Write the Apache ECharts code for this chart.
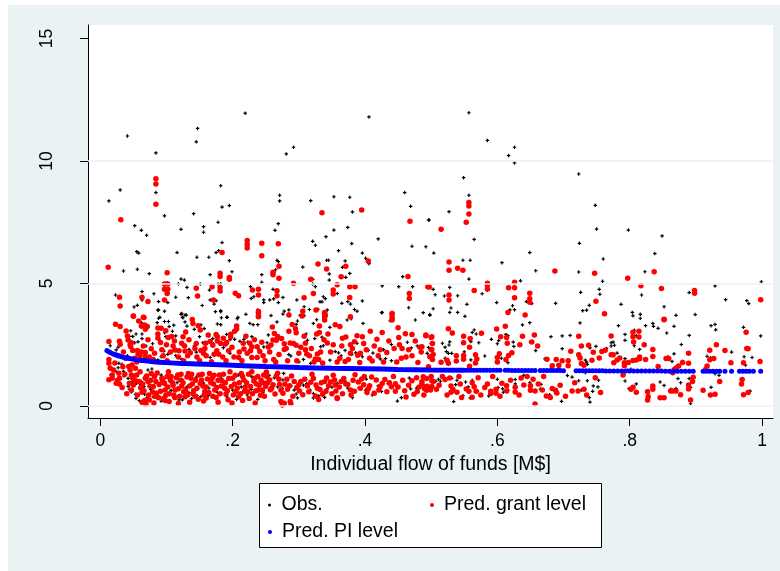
<!DOCTYPE html>
<html>
<head>
<meta charset="utf-8">
<script src="https://cdn.jsdelivr.net/npm/echarts/dist/echarts.min.js"></script>
<style>
  html, body { margin: 0; padding: 0; background: #ffffff; }
  #chart { width: 780px; height: 571px; }
</style>
</head>
<body>
<div id="chart"></div>
<script>
// ---- Axis ticks ----
const xTickValues = [0, 0.2, 0.4, 0.6, 0.8, 1];
const xTickLabels = ['0', '.2', '.4', '.6', '.8', '1'];
const yTickValues = [0, 5, 10, 15];
const yTickLabels = ['0', '5', '10', '15'];
const gridValues = [0, 5, 10];

// ---- Observed values: [flow of funds (M$), level] ----
const obsUpper = [
  [0.041,11.02],[0.084,10.33],[0.147,11.33],[0.145,10.78],[0.219,11.95],[0.281,10.29],[0.292,10.56],[0.406,11.80],
  [0.013,8.37],[0.030,8.82],[0.084,8.71],[0.097,7.76],[0.052,7.36],[0.062,7.17],[0.070,6.97],[0.055,6.30],[0.058,6.24],
  [0.035,5.51],[0.056,5.58],[0.074,5.40],[0.122,7.21],[0.116,6.26],[0.141,7.85],[0.156,7.32],[0.156,7.09],[0.146,6.07],
  [0.164,6.07],[0.182,8.99],[0.184,8.12],[0.195,8.18],[0.178,7.50],[0.184,6.67],[0.175,6.26],[0.179,6.34],[0.195,5.93],
  [0.199,5.48],[0.166,5.36],[0.271,8.60],[0.271,8.37],[0.269,7.44],[0.264,7.17],[0.267,5.95],[0.269,5.89],[0.265,5.56],
  [0.244,5.36],[0.244,5.05],[0.318,8.38],[0.353,8.54],[0.377,8.52],[0.381,7.92],[0.353,7.18],[0.374,7.29],[0.341,6.91],
  [0.321,6.72],[0.325,6.56],[0.360,6.34],[0.380,6.63],[0.396,6.24],[0.401,6.03],[0.406,5.81],[0.342,5.95],[0.345,5.95],
  [0.370,5.92],[0.306,5.67],[0.366,5.66],[0.370,5.69],[0.346,5.39],[0.377,5.41],[0.371,5.25],[0.321,5.17],[0.420,6.82],
  [0.460,8.71],[0.469,8.15],[0.471,6.52],[0.492,6.50],[0.497,7.59],[0.457,5.28],
  [0.557,11.97],[0.585,10.84],[0.617,10.22],[0.626,10.56],[0.626,9.92],[0.549,9.32],[0.557,8.60],[0.527,7.93],[0.496,7.59],
  [0.723,9.47],[0.748,8.19],[0.750,7.22],[0.798,7.18],[0.849,6.94],[0.838,6.22],[0.724,6.64],[0.760,6.00],[0.565,6.80],
  [0.504,6.24],[0.548,5.95],[0.559,5.95],[0.607,5.85],[0.649,6.26],[0.658,5.52],[0.723,5.47],[0.823,5.48],[0.557,5.18],
  [0.635,5.11],[0.759,5.09],[0.929,4.90],[0.999,5.07]
];
const obsMid = [
  [0.023,4.53],[0.101,5.03],[0.097,4.93],[0.102,4.63],[0.102,4.22],[0.088,4.26],[0.088,3.92],[0.090,3.62],[0.063,4.67],
  [0.063,4.33],[0.056,4.11],[0.051,4.04],[0.081,4.58],[0.118,4.99],[0.127,5.14],[0.131,4.84],[0.133,4.42],[0.122,5.18],
  [0.114,4.44],[0.123,3.78],[0.125,3.60],[0.130,3.71],[0.151,4.98],[0.154,4.10],[0.165,4.73],[0.166,4.33],[0.172,4.16],
  [0.175,4.30],[0.182,3.89],[0.191,3.62],[0.178,4.98],[0.182,4.99],[0.182,4.65],[0.207,3.56],[0.227,4.87],[0.228,4.39],
  [0.232,4.46],[0.238,3.92],[0.247,4.33],[0.247,4.22],[0.256,4.33],[0.261,4.76],[0.262,4.37],[0.267,4.64],[0.269,4.22],
  [0.276,4.43],[0.278,3.87],[0.285,3.92],[0.297,4.33],[0.302,3.70],[0.308,4.05],[0.316,3.94],[0.321,4.98],[0.325,4.87],
  [0.329,3.95],[0.335,4.25],[0.332,4.25],[0.337,4.46],[0.340,4.38],[0.343,3.92],[0.346,5.14],[0.358,4.59],[0.365,4.19],
  [0.374,4.26],[0.378,4.16],[0.384,3.94],[0.388,3.87],[0.396,4.29],[0.426,4.90],[0.426,3.82],[0.451,4.87],[0.466,4.01],
  [0.472,4.87],[0.488,3.81],
  [0.945,4.34],[0.977,4.30],[0.980,4.18],[0.890,4.63],[0.852,4.05],[0.870,3.70],[0.899,3.73],[0.818,4.53],[0.787,4.15],
  [0.804,3.82],[0.754,4.76],[0.755,4.56],[0.726,4.64],[0.739,4.11],[0.729,3.89],[0.735,3.91],[0.688,4.19],[0.644,4.26],
  [0.652,4.18],[0.626,3.93],[0.619,3.92],[0.623,4.09],[0.599,4.22],[0.577,4.58],[0.585,4.72],[0.554,4.15],[0.540,4.50],
  [0.530,4.00],[0.528,4.84],[0.528,3.82],[0.540,3.82],[0.503,4.76],[0.506,4.54],[0.520,4.49],[0.503,3.97],[0.498,3.70],
  [0.551,3.66]
];
const obsBandLeft = [
  [0.087,3.91],[0.097,3.87],[0.088,3.58],[0.122,3.74],[0.128,3.71],[0.124,3.62],[0.174,3.85],[0.182,3.85],[0.183,3.60],
  [0.192,3.62],[0.208,3.62],[0.220,3.74],[0.226,3.37],[0.177,3.35],[0.182,3.32],[0.111,3.30],[0.104,3.24],[0.097,3.45],
  [0.103,3.45],[0.086,3.40],[0.059,3.45],[0.062,3.40],[0.062,3.21],[0.054,2.94],[0.063,2.94],[0.063,2.75],[0.030,3.21],
  [0.046,3.07],[0.044,2.84],[0.049,2.84],[0.052,2.58],[0.057,2.62],[0.015,2.46],[0.024,2.29],[0.027,2.40],[0.032,2.01],
  [0.041,2.05],[0.069,2.45],[0.079,2.54],[0.090,2.67],[0.097,2.99],[0.099,2.83],[0.109,3.05],[0.114,2.86],[0.128,3.43],
  [0.131,3.26],[0.142,3.13],[0.152,3.31],[0.157,3.16],[0.150,2.83],[0.155,2.58],[0.164,2.86],[0.170,2.75],[0.171,2.54],
  [0.191,2.92],[0.196,2.71],[0.203,2.72],[0.211,2.64],[0.217,2.72],[0.223,2.61],[0.229,2.83],[0.231,3.32],[0.238,3.32],
  [0.240,2.30],[0.247,2.41],[0.186,2.38],[0.196,2.15],[0.211,2.22],[0.129,2.45],[0.134,2.31],[0.142,2.45],[0.145,2.20],
  [0.112,2.31],[0.114,2.06],[0.096,2.24],[0.102,2.11],[0.071,2.01],[0.087,1.88],[0.092,2.01],[0.166,1.98],[0.168,1.85],
  [0.123,1.90],[0.028,1.74],[0.033,1.70],[0.024,1.40],[0.027,1.56],[0.016,1.27],
  [0.035,1.41],[0.036,1.22],[0.042,1.13],[0.049,1.00],[0.055,0.93],[0.062,1.00],[0.061,0.87],[0.066,0.79],[0.047,0.57],
  [0.053,0.48],[0.054,0.31],[0.059,0.22],[0.067,0.48],[0.071,0.35],[0.076,0.68],[0.080,0.37],[0.086,0.31],[0.092,1.26],
  [0.096,1.10],[0.098,0.86],[0.107,0.64],[0.111,0.33],[0.119,0.25],[0.116,0.95],[0.124,1.07],[0.130,0.76],[0.134,0.55],
  [0.138,0.30],[0.146,0.43],[0.152,0.38],[0.145,1.18],[0.156,0.93],[0.164,0.73],[0.163,0.42],[0.174,0.31],[0.177,0.55],
  [0.183,1.13],[0.186,0.86],[0.191,0.38],[0.200,0.65],[0.206,0.27],[0.213,0.78],[0.209,1.26],[0.217,1.06],[0.222,0.45],
  [0.228,0.68],[0.238,0.27],[0.229,1.19],[0.242,0.89],[0.246,0.56],[0.042,0.80],[0.044,0.68],[0.072,1.47],[0.078,1.51],
  [0.092,0.20],[0.124,0.25]
];
const obsBandMid = [
  [0.258,3.69],[0.267,3.43],[0.276,3.75],[0.285,3.75],[0.298,3.47],[0.296,3.33],[0.308,3.69],[0.311,2.94],[0.313,2.68],
  [0.322,3.37],[0.327,3.52],[0.330,3.29],[0.331,2.96],[0.335,2.81],[0.333,2.42],[0.337,2.46],[0.324,2.75],[0.347,3.21],
  [0.373,3.51],[0.379,3.56],[0.397,3.37],[0.425,3.81],[0.438,3.48],[0.476,3.51],[0.498,3.73],[0.355,2.22],[0.360,2.17],
  [0.364,2.05],[0.370,2.27],[0.380,2.10],[0.386,2.17],[0.388,2.56],[0.396,2.01],[0.405,2.27],[0.412,2.16],[0.423,1.92],
  [0.431,1.93],[0.440,1.85],[0.440,2.51],[0.428,2.30],[0.464,2.60],[0.470,2.37],[0.479,2.45],[0.494,2.15],[0.496,2.39],
  [0.500,2.56],[0.252,2.58],[0.254,2.90],[0.279,2.29],[0.288,2.04],[0.285,2.10],[0.300,1.80],[0.307,1.90],[0.318,1.74],
  [0.347,1.87],
  [0.255,1.25],[0.263,1.15],[0.268,0.78],[0.277,1.33],[0.276,1.06],[0.275,0.72],[0.288,0.82],[0.293,0.65],[0.298,0.33],
  [0.296,0.49],[0.307,0.85],[0.312,0.91],[0.317,0.65],[0.322,0.51],[0.322,0.33],[0.330,0.41],[0.336,0.53],[0.339,0.35],
  [0.343,0.70],[0.350,0.77],[0.358,0.92],[0.370,1.01],[0.374,0.73],[0.381,0.34],[0.391,0.74],[0.401,0.65],[0.402,1.10],
  [0.411,0.45],[0.420,0.82],[0.425,0.59],[0.435,0.91],[0.447,0.82],[0.449,0.20],[0.455,0.34],[0.456,1.01],[0.467,1.14],
  [0.469,0.70],[0.478,0.73],[0.487,1.03],[0.494,0.60],[0.499,0.74]
];
const obsBandRight = [
  [0.649,3.40],[0.638,3.31],[0.725,3.39],[0.565,3.10],[0.568,2.94],[0.562,3.00],[0.572,2.58],[0.558,2.75],[0.560,2.63],
  [0.531,2.95],[0.528,2.62],[0.527,2.49],[0.523,2.22],[0.526,2.15],[0.531,2.15],[0.521,1.95],[0.550,2.21],[0.550,2.07],
  [0.560,1.88],[0.581,2.04],[0.591,2.72],[0.600,2.54],[0.602,2.67],[0.613,2.92],[0.616,2.87],[0.624,2.61],[0.625,2.43],
  [0.606,1.95],[0.616,1.77],[0.650,2.62],[0.658,2.26],[0.681,2.83],[0.698,2.86],[0.710,2.88],[0.698,2.34],[0.672,1.92],
  [0.682,1.57],[0.693,1.55],[0.733,1.87],[0.735,1.79],[0.736,1.70],[0.740,2.37],[0.749,2.43],[0.706,1.24],[0.713,1.18],
  [0.733,1.36],[0.736,1.03],[0.753,1.05],[0.745,0.82],[0.752,0.78],[0.744,0.60],[0.739,0.34],[0.740,0.16],[0.723,1.03],
  [0.727,0.65],[0.697,0.19],[0.688,0.52],[0.507,1.01],[0.514,1.01],[0.511,1.09],[0.531,1.13],[0.539,1.05],[0.537,0.87],
  [0.534,0.60],[0.534,0.18],[0.552,0.98],[0.562,1.05],[0.556,0.78],[0.548,0.43],[0.559,0.33],[0.570,0.61],[0.587,0.41],
  [0.600,1.09],[0.601,0.75],[0.608,0.70],[0.609,0.56],[0.616,0.65],[0.627,1.08],[0.627,0.90],[0.640,1.25],[0.649,0.95],
  [0.649,0.78],[0.666,0.88],[0.665,0.69],[0.679,0.46],[0.517,2.56],[0.521,2.40],
  [0.805,3.68],[0.816,3.74],[0.816,3.58],[0.783,3.28],[0.824,3.28],[0.835,3.37],[0.836,3.25],[0.843,3.17],[0.867,3.25],
  [0.856,2.98],[0.793,2.92],[0.807,3.09],[0.810,2.87],[0.793,2.68],[0.772,2.58],[0.775,2.61],[0.772,2.45],[0.777,2.48],
  [0.765,2.35],[0.807,2.46],[0.815,2.31],[0.781,2.16],[0.890,2.88],[0.878,2.51],[0.867,2.13],[0.858,2.01],[0.864,1.82],
  [0.923,3.28],[0.929,3.33],[0.930,3.11],[0.972,3.21],[0.998,2.86],[0.954,2.20],[0.917,2.03],[0.922,1.97],[0.973,2.01],
  [0.985,1.98],[0.975,1.67],[0.929,1.32],[0.935,1.25],[0.793,1.93],[0.802,1.50],[0.797,1.46],[0.793,1.02],[0.810,0.90],
  [0.799,0.71],[0.828,0.61],[0.828,0.45],[0.846,0.98],[0.852,0.84],[0.862,0.68],[0.870,0.71],[0.873,1.12],[0.877,0.95],
  [0.892,0.76],[0.892,0.09],[0.923,0.76],[0.969,1.09],[0.982,0.61],[0.880,1.82],[0.890,1.12]
];

// ---- Predicted values at the grant level ----
const grantUpper = [
  [0.084,9.27],[0.084,9.06],[0.084,8.23],[0.031,7.60],[0.012,5.66],[0.222,6.75],[0.222,6.60],[0.222,6.45],[0.244,6.64],
  [0.244,6.13],[0.269,6.62],[0.270,5.70],[0.184,6.26],[0.181,5.42],[0.181,5.29],[0.195,5.24],[0.195,5.17],[0.101,5.44],
  [0.261,5.46],[0.261,5.36],[0.270,5.21],[0.335,7.89],[0.395,8.00],[0.329,5.80],[0.342,5.59],[0.371,5.70],[0.405,5.92],
  [0.468,7.54],[0.465,5.29],[0.318,5.17],[0.358,4.95],[0.292,5.01],
  [0.557,8.31],[0.557,8.16],[0.557,7.84],[0.553,7.50],[0.515,7.21],[0.527,5.88],[0.527,5.54],[0.540,5.62],[0.548,5.54],
  [0.687,5.51],[0.747,5.42],[0.837,5.48],[0.797,5.21],[0.495,4.87],[0.565,4.71],[0.585,5.01],[0.585,4.93],[0.585,4.78],
  [0.617,4.83],[0.626,5.05],[0.626,4.83],[0.626,4.42],[0.527,4.53],[0.527,4.33],[0.649,4.60],[0.649,4.38],[0.649,4.23],
  [0.616,3.82],[0.642,3.71],[0.749,4.27],[0.762,3.76],[0.817,4.91],[0.848,4.80],[0.898,4.71],[0.898,4.60],[0.998,4.34],
  [0.852,3.54]
];
const grantMid = [
  [0.097,4.98],[0.097,4.76],[0.102,4.98],[0.102,4.76],[0.101,4.59],[0.097,4.33],[0.063,4.44],[0.065,3.62],[0.050,3.67],
  [0.029,4.44],[0.030,4.08],[0.072,4.26],[0.145,4.81],[0.169,4.87],[0.181,4.84],[0.181,4.70],[0.230,4.73],[0.267,4.70],
  [0.267,4.50],[0.239,3.80],[0.239,3.64],[0.285,3.71],[0.308,4.42],[0.322,4.59],[0.306,3.87],[0.326,3.92],[0.339,3.82],
  [0.339,3.64],[0.352,4.73],[0.352,4.57],[0.364,5.28],[0.377,4.87],[0.377,4.43],[0.378,3.64],[0.385,4.87],[0.441,3.77],
  [0.441,3.61],[0.467,4.59],[0.467,4.39],[0.497,4.86],[0.204,4.60],[0.209,4.50],[0.171,4.33],[0.147,4.49],[0.239,4.76],
  [0.239,4.53]
];
const grantBandLeft = [
  [0.050,3.66],[0.066,3.61],[0.023,3.34],[0.030,3.24],[0.058,3.47],[0.062,3.27],[0.067,3.31],[0.071,3.24],[0.068,3.13],
  [0.039,3.06],[0.041,2.86],[0.042,2.69],[0.029,2.64],[0.030,2.52],[0.013,2.63],[0.047,2.58],[0.046,2.42],[0.049,2.27],
  [0.045,2.50],[0.056,2.26],[0.057,2.12],[0.062,2.20],[0.068,2.18],[0.068,2.01],[0.077,2.34],[0.087,3.18],[0.087,2.94],
  [0.087,2.78],[0.092,3.17],[0.099,3.07],[0.091,2.59],[0.100,2.50],[0.103,2.80],[0.108,2.84],[0.110,2.45],[0.113,2.29],
  [0.123,2.56],[0.127,2.46],[0.125,2.83],[0.129,3.02],[0.139,3.53],[0.140,3.37],[0.148,3.28],[0.151,3.10],[0.128,2.24],
  [0.136,2.17],[0.143,2.35],[0.152,2.27],[0.156,2.15],[0.159,2.56],[0.166,2.63],[0.170,2.48],[0.175,2.92],[0.177,2.83],
  [0.177,2.65],[0.186,2.76],[0.191,2.59],[0.197,2.93],[0.197,2.83],[0.206,3.27],[0.206,3.14],[0.216,2.56],[0.217,2.33],
  [0.226,2.56],[0.229,2.42],[0.237,2.42],[0.241,2.22],[0.239,3.86],[0.239,3.67],[0.189,2.53],[0.172,2.11],[0.179,2.11],
  [0.202,2.00],[0.209,1.98],[0.229,1.98],[0.237,1.98],
  [0.035,2.20],[0.038,1.95],[0.052,1.95],[0.060,2.05],[0.074,2.00],[0.082,2.15],[0.095,2.05],[0.106,2.20],[0.118,2.00],
  [0.132,2.05],[0.146,2.00],[0.160,2.05],[0.185,2.00],[0.194,2.25],[0.222,2.15],[0.246,2.05],
  [0.055,1.80],[0.065,2.45],[0.072,2.70],[0.080,1.90],[0.093,2.30],[0.101,1.85],[0.112,2.65],[0.119,2.25],[0.126,1.85],
  [0.134,2.70],[0.145,2.55],[0.150,1.85],[0.158,2.35],[0.163,2.90],[0.168,1.80],[0.176,2.25],[0.182,2.55],[0.190,1.85],
  [0.199,2.40],[0.203,3.05],[0.210,2.20],[0.214,1.85],[0.220,2.85],[0.227,2.25],[0.233,2.70],[0.244,2.60],[0.249,1.85],
  [0.013,1.90],[0.013,1.74],[0.015,1.54],[0.020,1.47],[0.018,1.27],[0.013,1.07],[0.018,1.13],[0.028,1.34],[0.029,1.13],
  [0.029,0.90],[0.024,0.93],[0.043,1.61],[0.048,1.67],[0.053,1.54],[0.045,1.47],[0.047,1.26],[0.049,1.13],[0.044,0.93],
  [0.050,0.86],[0.047,0.65],[0.055,1.26],[0.058,1.00],[0.061,0.74],[0.063,0.56],[0.067,0.22],[0.069,0.07],[0.074,0.24],
  [0.068,1.13],[0.072,1.00],[0.075,0.82],[0.077,1.33],[0.082,1.20],[0.084,1.00],[0.079,0.57],[0.085,0.52],[0.088,0.35],
  [0.093,1.13],[0.097,0.93],[0.098,0.65],[0.099,0.44],[0.098,0.22],[0.103,1.40],[0.107,1.20],[0.109,0.95],[0.113,0.65],
  [0.113,0.35],[0.117,1.26],[0.121,1.06],[0.123,0.82],[0.126,0.58],[0.128,0.38],[0.133,1.33],[0.137,1.13],[0.139,0.90],
  [0.141,0.62],[0.143,0.40],[0.149,1.26],[0.153,1.06],[0.155,0.82],[0.158,0.60],[0.160,0.33],[0.165,1.33],[0.169,1.13],
  [0.171,0.90],[0.173,0.65],[0.175,0.35],[0.180,1.26],[0.184,1.03],[0.188,0.72],[0.190,0.49],[0.193,0.25],[0.196,1.40],
  [0.200,1.13],[0.203,0.90],[0.205,0.58],[0.209,0.38],[0.213,1.33],[0.217,1.06],[0.219,0.78],[0.223,0.58],[0.225,0.31],
  [0.229,1.40],[0.233,1.13],[0.236,0.90],[0.239,0.65],[0.242,0.44],[0.247,1.26],[0.248,0.93],
  [0.052,1.05],[0.056,0.45],[0.060,1.40],[0.064,0.90],[0.066,0.62],[0.070,1.22],[0.073,0.45],[0.076,1.05],[0.080,0.80],
  [0.083,0.40],[0.086,1.35],[0.089,0.88],[0.091,0.60],[0.094,1.02],[0.095,0.30],[0.101,1.20],[0.102,0.78],[0.104,0.50],
  [0.106,1.05],[0.110,0.85],[0.111,0.45],[0.115,1.15],[0.118,0.70],[0.120,0.40],[0.122,1.30],[0.125,0.95],[0.129,0.65],
  [0.131,1.18],[0.132,0.45],[0.135,0.82],[0.138,1.30],[0.140,0.50],[0.144,1.05],[0.146,0.72],[0.148,0.28],[0.151,0.92],
  [0.154,1.30],[0.157,0.45],[0.160,0.78],[0.162,1.10],[0.164,0.55],[0.167,0.95],[0.170,0.40],[0.172,1.25],[0.176,0.75],
  [0.178,1.05],[0.181,0.50],[0.183,0.82],[0.186,1.30],[0.189,0.95],[0.192,0.62],[0.194,1.12],[0.198,0.80],[0.201,0.45],
  [0.204,1.25],[0.207,0.72],[0.210,0.95],[0.212,0.50],[0.215,1.20],[0.218,0.60],[0.221,0.95],[0.224,1.30],[0.227,0.80],
  [0.230,0.50],[0.232,1.02],[0.235,0.62],[0.238,1.20],[0.240,0.85],[0.243,1.05],[0.245,0.65],[0.248,0.40],
  [0.022,1.75],[0.026,1.05],[0.033,0.75],[0.037,1.30],[0.040,0.50],[0.034,1.60],
  [0.063,0.15],[0.081,0.12],[0.104,0.18],[0.118,0.10],[0.135,0.15],[0.156,0.20],[0.178,0.15],[0.199,0.12],[0.215,0.22],
  [0.234,0.12]
];
const grantBandMid = [
  [0.260,3.22],[0.263,2.96],[0.268,2.84],[0.266,2.68],[0.261,2.69],[0.258,2.49],[0.254,2.41],[0.290,3.33],[0.295,3.15],
  [0.296,2.99],[0.292,2.55],[0.296,2.48],[0.278,2.54],[0.278,2.31],[0.287,2.57],[0.305,3.67],[0.310,2.56],[0.310,2.30],
  [0.312,2.12],[0.327,2.94],[0.331,3.00],[0.331,3.26],[0.339,3.78],[0.340,3.69],[0.339,3.51],[0.344,2.94],[0.343,2.57],
  [0.328,2.12],[0.325,1.92],[0.330,1.90],[0.355,3.32],[0.362,3.24],[0.371,2.82],[0.366,2.77],[0.378,2.50],[0.378,2.15],
  [0.384,2.62],[0.388,2.87],[0.396,2.83],[0.408,3.05],[0.418,2.72],[0.426,3.00],[0.441,3.75],[0.441,3.51],[0.450,3.19],
  [0.451,2.80],[0.452,2.50],[0.456,2.35],[0.461,2.95],[0.471,2.92],[0.471,2.05],[0.492,2.87],[0.501,2.83],[0.500,2.31],
  [0.498,2.01],[0.370,1.82],[0.389,2.07],[0.411,1.84],
  [0.262,1.90],[0.270,2.10],[0.283,1.85],[0.300,2.15],[0.316,2.05],[0.336,1.75],[0.348,2.20],[0.362,1.95],[0.392,1.78],
  [0.402,2.30],[0.420,2.05],[0.433,2.18],[0.448,1.80],[0.462,2.00],[0.480,1.78],[0.485,2.20],
  [0.256,2.20],[0.265,1.80],[0.274,2.75],[0.281,2.35],[0.285,3.05],[0.297,1.85],[0.303,2.40],[0.308,2.85],[0.319,2.35],
  [0.323,1.80],[0.333,2.20],[0.338,2.70],[0.352,2.50],[0.358,1.80],[0.365,2.45],[0.375,1.90],[0.381,2.35],[0.393,2.15],
  [0.398,2.55],[0.407,1.95],[0.414,2.45],[0.423,2.30],[0.428,1.80],[0.436,2.65],[0.444,2.35],[0.455,1.95],[0.466,2.30],
  [0.476,2.65],[0.483,2.40],
  [0.251,1.39],[0.252,1.19],[0.250,0.81],[0.256,1.06],[0.257,0.66],[0.261,0.87],[0.264,0.49],[0.268,1.34],[0.270,1.09],
  [0.273,0.65],[0.273,0.18],[0.278,0.11],[0.287,0.18],[0.279,0.89],[0.282,1.09],[0.286,0.83],[0.293,1.00],[0.300,0.87],
  [0.301,0.61],[0.309,1.09],[0.313,0.82],[0.322,1.12],[0.326,0.86],[0.332,0.67],[0.339,1.00],[0.342,1.14],[0.345,0.83],
  [0.354,1.06],[0.355,0.86],[0.356,0.61],[0.358,0.34],[0.368,1.12],[0.371,0.90],[0.378,0.65],[0.379,0.45],[0.385,1.28],
  [0.390,0.98],[0.399,1.20],[0.398,0.87],[0.403,0.55],[0.407,0.83],[0.417,1.06],[0.421,0.65],[0.426,0.92],[0.440,0.79],
  [0.446,0.91],[0.446,0.60],[0.462,0.37],[0.471,1.03],[0.479,0.59],[0.486,0.90],[0.490,0.70],[0.494,0.81],[0.501,1.03],
  [0.275,0.04],[0.288,0.10],[0.325,0.41],[0.330,0.27],[0.358,0.31],
  [0.253,0.95],[0.259,0.72],[0.266,1.22],[0.271,0.88],[0.276,0.52],[0.283,0.68],[0.289,1.22],[0.291,0.40],[0.297,0.75],
  [0.303,1.00],[0.306,0.46],[0.315,0.58],[0.318,0.97],[0.320,1.30],[0.328,0.72],[0.334,0.95],[0.336,0.48],[0.341,0.60],
  [0.348,0.98],[0.350,0.50],[0.352,1.25],[0.361,0.78],[0.364,1.00],[0.366,0.50],[0.374,0.88],[0.382,1.05],[0.384,0.60],
  [0.393,0.72],[0.395,1.10],[0.405,0.70],[0.410,1.18],[0.414,0.52],[0.423,0.80],[0.430,1.08],[0.433,0.58],[0.437,0.95],
  [0.443,1.20],[0.450,0.78],[0.457,1.05],[0.460,0.62],[0.466,0.85],[0.474,0.48],[0.478,1.15],[0.482,0.78],[0.489,0.45],
  [0.493,1.12],
  [0.500,2.80],[0.502,2.55],[0.501,2.30],[0.503,2.10],[0.502,1.90],[0.500,1.20],[0.503,1.00],[0.501,0.80],[0.499,0.65],
  [0.486,0.99],[0.491,0.79],[0.493,0.65],[0.488,1.19],[0.496,1.60],[0.486,2.42],[0.492,2.90]
];
const grantBandRight = [
  [0.526,3.15],[0.532,2.98],[0.549,2.85],[0.549,2.58],[0.559,2.75],[0.558,2.40],[0.576,2.97],[0.599,3.14],[0.612,3.25],
  [0.614,2.80],[0.615,2.56],[0.605,2.83],[0.638,2.85],[0.656,2.90],[0.652,2.61],[0.661,2.45],[0.634,2.50],[0.515,1.79],
  [0.524,1.87],[0.526,1.74],[0.538,2.05],[0.538,1.84],[0.549,2.06],[0.549,1.91],[0.567,2.09],[0.569,1.92],[0.567,1.75],
  [0.558,1.62],[0.600,1.80],[0.600,1.98],[0.603,2.13],[0.617,2.06],[0.622,2.17],[0.613,1.90],[0.675,1.91],[0.683,1.64],
  [0.689,1.90],[0.693,1.66],[0.698,1.85],[0.707,1.85],[0.707,1.64],[0.711,2.23],[0.723,2.85],[0.727,2.45],[0.738,2.48],
  [0.723,2.09],[0.725,1.96],[0.745,2.19],[0.754,1.96],[0.758,2.22],[0.727,1.73],[0.731,1.66],[0.743,1.87],
  [0.521,1.08],[0.528,1.14],[0.530,0.82],[0.533,0.67],[0.539,0.56],[0.530,0.56],[0.544,0.90],[0.553,0.69],[0.557,0.60],
  [0.562,0.95],[0.565,0.79],[0.568,0.60],[0.562,0.36],[0.581,0.75],[0.590,0.60],[0.598,0.68],[0.598,0.52],[0.590,0.51],
  [0.607,0.93],[0.614,0.83],[0.614,0.61],[0.627,0.77],[0.627,0.57],[0.636,1.14],[0.640,0.86],[0.650,0.83],[0.650,0.64],
  [0.657,0.61],[0.657,0.08],[0.654,1.09],[0.668,0.65],[0.674,0.41],[0.680,0.35],[0.683,0.71],[0.690,0.53],[0.688,0.64],
  [0.713,0.61],[0.722,0.61],[0.731,0.68],[0.508,0.68],
  [0.512,0.85],[0.517,1.20],[0.524,0.45],[0.542,1.20],[0.546,0.35],[0.571,1.15],[0.575,0.45],[0.585,0.90],[0.593,1.20],
  [0.604,0.40],[0.620,1.05],[0.633,0.45],[0.645,1.20],[0.662,0.90],[0.670,1.20],[0.695,0.85],[0.703,0.40],[0.717,0.95],
  [0.735,0.45],[0.748,1.15],[0.756,0.55],
  [0.852,3.52],[0.772,2.86],[0.805,3.01],[0.814,3.05],[0.805,2.83],[0.814,2.82],[0.806,2.61],[0.822,2.50],[0.772,2.09],
  [0.775,2.09],[0.815,2.00],[0.815,1.93],[0.792,1.77],[0.798,1.78],[0.792,1.64],[0.805,1.86],[0.810,1.88],[0.781,1.88],
  [0.785,1.96],[0.776,1.77],[0.824,1.90],[0.835,2.31],[0.835,2.02],[0.855,1.94],[0.859,1.94],[0.843,1.61],[0.870,1.55],
  [0.867,1.48],[0.874,1.63],[0.865,1.36],[0.880,1.78],[0.889,2.15],[0.889,1.74],[0.896,1.17],[0.895,1.00],[0.889,0.86],
  [0.889,0.69],[0.892,0.24],[0.862,0.61],[0.865,0.61],[0.870,0.61],[0.877,0.46],[0.852,0.34],[0.846,0.34],[0.835,0.82],
  [0.835,0.68],[0.827,0.58],[0.828,0.38],[0.827,0.24],[0.810,0.56],[0.802,0.68],[0.805,0.77],[0.790,1.27],[0.921,2.28],
  [0.931,2.50],[0.944,2.27],[0.921,1.89],[0.927,1.94],[0.917,1.63],[0.915,1.50],[0.936,1.00],[0.911,0.64],[0.922,0.45],
  [0.929,0.48],[0.953,1.77],[0.976,3.01],[0.977,2.35],[0.979,2.34],[0.972,1.77],[0.970,1.08],[0.969,0.90],[0.972,0.46],
  [0.979,0.55],[0.997,1.82],[0.763,2.28]
];

// ---- Predicted values at the PI level ----
// dense stretch, drawn as a thick continuous trace
const piCurve = [
  [0.010,2.26],[0.015,2.18],[0.020,2.12],[0.030,2.03],[0.040,1.96],[0.050,1.91],[0.060,1.87],[0.080,1.81],[0.100,1.77],
  [0.130,1.73],[0.160,1.70],[0.200,1.66],[0.250,1.61],[0.300,1.57],[0.350,1.54],[0.400,1.52],[0.450,1.49],[0.500,1.47],
  [0.550,1.46]
];
// sparser stretch, individual points
const piDots = [
  [0.554,1.46],[0.559,1.46],[0.564,1.46],[0.569,1.46],[0.574,1.46],[0.579,1.46],[0.584,1.46],[0.589,1.46],[0.594,1.46],
  [0.599,1.46],[0.604,1.46],[0.612,1.46],[0.617,1.46],[0.622,1.45],[0.627,1.45],[0.632,1.45],[0.637,1.45],[0.642,1.45],
  [0.647,1.45],[0.652,1.45],[0.657,1.45],[0.665,1.45],[0.670,1.45],[0.675,1.45],[0.680,1.45],[0.685,1.45],[0.690,1.45],
  [0.695,1.45],[0.700,1.44],[0.719,1.44],[0.724,1.44],[0.729,1.44],[0.734,1.44],[0.739,1.44],[0.744,1.44],[0.749,1.44],
  [0.754,1.44],[0.759,1.44],[0.764,1.43],[0.770,1.43],[0.776,1.43],[0.782,1.43],[0.788,1.43],[0.794,1.43],[0.800,1.43],
  [0.806,1.43],[0.812,1.43],[0.818,1.43],[0.824,1.43],[0.830,1.43],[0.836,1.43],[0.842,1.43],[0.848,1.43],[0.854,1.42],
  [0.860,1.42],[0.866,1.42],[0.872,1.42],[0.878,1.42],[0.884,1.42],[0.890,1.42],[0.896,1.42],[0.911,1.42],[0.916,1.42],
  [0.921,1.42],[0.926,1.42],[0.931,1.42],[0.936,1.42],[0.944,1.42],[0.954,1.42],[0.966,1.42],[0.971,1.42],[0.976,1.42],
  [0.981,1.42],[0.987,1.42],[0.998,1.42]
];

const FONT = 'Liberation Sans, Arial, Helvetica, sans-serif';
const obsPoints = obsUpper.concat(obsMid, obsBandLeft, obsBandMid, obsBandRight);
const grantPoints = grantUpper.concat(grantMid, grantBandLeft, grantBandMid, grantBandRight);

const chart = echarts.init(document.getElementById('chart'), null, { renderer: 'canvas' });

const legendBase = {
  orient: 'horizontal', padding: 0, icon: 'circle', itemWidth: 14, itemGap: 0,
  selectedMode: false,
  textStyle: { color: '#000', fontSize: 19.5, fontFamily: FONT }
};

chart.setOption({
  animation: false,
  backgroundColor: '#ffffff',
  textStyle: { fontFamily: FONT },
  graphic: [
    { type: 'rect', z: -10, silent: true, shape: { x: 8, y: 5, width: 772, height: 566 }, style: { fill: '#eaf2f3' } },
    { type: 'rect', z: 1, silent: true, shape: { x: 259.5, y: 483.5, width: 342, height: 64 },
      style: { fill: '#ffffff', stroke: '#000000', lineWidth: 1 } }
  ],
  legend: [
    Object.assign({}, legendBase, { data: ['Obs.'], left: 268, top: 495, itemHeight: 3 }),
    Object.assign({}, legendBase, { data: ['Pred. grant level'], left: 430, top: 495, itemHeight: 4 }),
    Object.assign({}, legendBase, { data: ['Pred. PI level'], left: 268, top: 522, itemHeight: 4 })
  ],
  grid: { left: 88, right: 7, top: 25, bottom: 153, show: true, backgroundColor: '#ffffff', borderWidth: 0 },
  xAxis: {
    type: 'value', min: -0.0186, max: 1.0166,
    axisLine: { show: true, onZero: false, lineStyle: { color: '#000', width: 1 } },
    axisTick: { show: true, customValues: xTickValues, length: 8, lineStyle: { color: '#000', width: 1 } },
    axisLabel: {
      customValues: xTickValues, margin: 14, color: '#000', fontSize: 17.5, fontFamily: FONT,
      formatter: v => xTickLabels[xTickValues.findIndex(t => Math.abs(t - v) < 1e-9)]
    },
    splitLine: { show: false },
    name: 'Individual flow of funds [M$]', nameLocation: 'middle', nameGap: 34,
    nameTextStyle: { color: '#000', fontSize: 19.5, fontFamily: FONT, verticalAlign: 'top' }
  },
  yAxis: {
    type: 'value', min: -0.49, max: 15.55,
    axisLine: { show: true, onZero: false, lineStyle: { color: '#000', width: 1 } },
    axisTick: { show: true, customValues: yTickValues, length: 8, lineStyle: { color: '#000', width: 1 } },
    axisLabel: {
      customValues: yTickValues, rotate: 90, margin: 32, color: '#000', fontSize: 17.5, fontFamily: FONT,
      formatter: v => yTickLabels[yTickValues.findIndex(t => Math.abs(t - v) < 1e-9)]
    },
    splitLine: { show: false }
  },
  series: [
    {
      name: 'gridlines', type: 'scatter', data: [], z: 1, silent: true,
      markLine: {
        silent: true, symbol: 'none', label: { show: false },
        lineStyle: { color: '#eaf2f3', width: 1.5, type: 'solid' },
        data: gridValues.map(v => ({ yAxis: v }))
      }
    },
    {
      name: 'Obs.', type: 'scatter', z: 2, data: obsPoints,
      symbol: 'path://M1,0H2V1H3V2H2V3H1V2H0V1H1Z', symbolSize: 3.5,
      itemStyle: { color: '#000000', opacity: 1 }
    },
    {
      name: 'Pred. grant level', type: 'scatter', z: 3, data: grantPoints,
      symbol: 'circle', symbolSize: 5.5,
      itemStyle: { color: '#ff0000', opacity: 1 }
    },
    {
      name: 'PI trace', type: 'line', z: 4, data: piCurve, smooth: true, showSymbol: false,
      lineStyle: { color: '#0000ff', width: 5, cap: 'round' }, silent: true
    },
    {
      name: 'Pred. PI level', type: 'scatter', z: 4, data: piDots,
      symbol: 'circle', symbolSize: 5,
      itemStyle: { color: '#0000ff', opacity: 1 }
    }
  ]
});
</script>
</body>
</html>
